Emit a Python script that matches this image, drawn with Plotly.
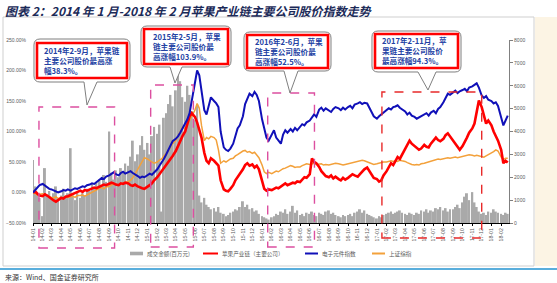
import pandas as pd
import plotly.graph_objects as go

W, H = 557, 283
ML, MR, MT, MB = 33, 48, 40, 60
PW, PH = W - ML - MR, H - MT - MB

# ---------------- data ----------------
months = pd.date_range("2014-01-01", "2018-02-01", freq="MS")
tick_labels = [d.strftime("%y-%m") for d in months]
week_offsets = [0, 7, 14, 21]
dates = [m + pd.Timedelta(days=o) for m in months for o in week_offsets]

# 成交金额(百万元), 4 readings per month
volume = [
    2750, 1600, 1300, 1100, 300, 2400, 1200, 1400, 1100, 1300, 1600, 1000, 1200, 1500, 1100, 1300,
    3270, 1200, 1000, 1400, 1100, 1300, 1200, 1500, 1400, 1700, 1500, 1800, 1900, 1600, 2100, 1800,
    4000, 2200, 1900, 2300, 2000, 2400, 2200, 2600, 2500, 2900, 3600, 2700, 3000, 3400, 3800, 3200,
    3500, 3000, 3800, 4200, 3900, 4300, 500, 4600, 4800, 5200, 5600, 5100, 5800, 6500, 6200, 5500,
    5300, 6000, 5600, 4900, 4500, 5200, 1200, 900, 1100, 800, 700, 600, 650, 500, 700, 450,
    400, 300, 350, 450, 500, 600, 550, 700, 950, 700, 800, 600, 650, 500, 550, 400,
    300, 250, 200, 150, 250, 300, 400, 350, 500, 450, 600, 400, 500, 750, 450, 550,
    350, 400, 300, 450, 400, 500, 350, 300, 450, 400, 350, 500, 550, 400, 450, 350,
    300, 250, 350, 300, 350, 400, 300, 450, 500, 600, 450, 550, 400, 350, 300, 250,
    200, 300, 250, 350, 400, 450, 500, 400, 450, 500, 550, 450, 400, 350, 450, 400,
    350, 450, 400, 550, 500, 600, 450, 550, 500, 650, 600, 700, 550, 650, 500, 600,
    600, 700, 800, 650, 900, 1150, 1300, 1000, 1350, 900, 700, 500, 400, 450, 350, 500,
    450, 600, 500, 450, 400, 350, 450, 400,
]

# 苹果产业链（主要公司）, % change
apple_chain = [
    0, 2, -2, -5, -6, -3, -5, -8, -10, -13, -15, -12, -9, -10, -7, -6,
    -4, -2, 0, 2, 3, 1, 4, 3, 5, 6, 8, 7, 9, 11, 13, 12,
    14, 16, 15, 13, 12, 15, 14, 16, 15, 12, 11, 13, 10, 8, 7, 6,
    9, 12, 15, 20, 25, 30, 34, 38, 44, 48, 55, 60, 68, 76, 85, 92,
    100, 112, 125, 130, 124, 115, 102, 90, 65, 52, 48, 56, 52, 48, 44, 20,
    5, 3, 2, 6, 12, 20, 25, 30, 38, 45, 48, 44, 46, 41, 44, 38,
    18, 6, 3, 5, 4, 6, 8, 7, 10, 13, 15, 12, 14, 16, 15, 18,
    17, 21, 25, 24, 30, 56, 50, 48, 42, 35, 30, 27, 25, 28, 23, 26,
    22, 20, 24, 21, 24, 27, 30, 28, 26, 30, 34, 38, 41, 36, 30, 24,
    22, 18, 20, 28, 35, 42, 48, 45, 52, 58, 55, 62, 70, 78, 85, 80,
    76, 74, 70, 72, 78, 75, 74, 80, 85, 90, 86, 84, 88, 94, 97, 92,
    85, 78, 74, 70, 76, 82, 90, 98, 105, 113, 130, 151, 140, 125, 113, 118,
    110, 100, 92, 85, 70, 48, 52, 49,
]

# 电子元件指数, % change
elec_index = [
    0, 4, 8, 12, 14, 11, 8, 6, 5, 3, 1, 0, 2, 4, 3, 5,
    3, 5, 7, 6, 8, 10, 9, 12, 13, 15, 14, 17, 20, 24, 22, 26,
    28, 31, 33, 30, 28, 32, 34, 31, 33, 35, 32, 30, 27, 24, 26, 25,
    28, 31, 29, 33, 38, 44, 49, 55, 62, 70, 76, 84, 88, 92, 98, 105,
    112, 120, 130, 150, 175, 200, 192, 170, 135, 128, 145, 156, 150, 146, 140, 100,
    74, 70, 68, 72, 80, 92, 105, 110, 125, 145, 155, 162, 158, 165, 160, 150,
    120, 102, 90, 85, 95, 102, 90, 86, 80, 95, 102, 98, 104, 100, 106, 102,
    108, 112, 110, 115, 118, 123, 128, 124, 136, 139, 134, 138, 135, 132, 137, 140,
    138, 135, 139, 136, 140, 142, 138, 144, 146, 148, 145, 147, 146, 140, 132, 125,
    121, 125, 128, 130, 134, 138, 136, 140, 141, 143, 139, 137, 133, 128, 131, 126,
    124, 121, 123, 125, 128, 130, 126, 131, 134, 130, 137, 140, 148, 155, 162, 160,
    164, 167, 163, 166, 168, 170, 166, 172, 174, 176, 179, 172, 159, 155, 158, 152,
    150, 146, 148, 142, 125, 110, 118, 126,
]

# 上证综指, % change
sh_index = [
    0, -2, -4, -3, -2, -3, -5, -6, -8, -9, -7, -10, -8, -9, -6, -8,
    -7, -6, -8, -5, -5, -4, -6, -4, -2, 0, 3, 5, 7, 8, 6, 9,
    10, 12, 14, 13, 12, 14, 15, 17, 18, 20, 24, 30, 38, 45, 52, 57,
    55, 52, 50, 48, 50, 53, 55, 60, 64, 68, 74, 80, 85, 92, 100, 107,
    105, 110, 118, 125, 135, 146, 138, 110, 85, 90, 88, 92, 90, 86, 70, 48,
    52, 50, 53, 55, 56, 60, 62, 65, 68, 69, 66, 67, 64, 66, 62, 57,
    45, 34, 31, 33, 31, 33, 35, 34, 37, 39, 40, 42, 44, 43, 41, 42,
    42, 44, 45, 47, 46, 47, 48, 46, 46, 47, 45, 46, 45, 46, 47, 48,
    47, 46, 45, 46, 47, 48, 49, 50, 51, 52, 53, 52, 50, 48, 47, 46,
    47, 48, 49, 50, 50, 51, 52, 51, 52, 51, 53, 52, 51, 49, 47, 46,
    45, 46, 45, 47, 48, 49, 50, 51, 52, 53, 55, 54, 55, 56, 57, 56,
    57, 58, 57, 58, 59, 60, 61, 62, 61, 60, 61, 60, 59, 58, 60, 62,
    64, 67, 70, 68, 58, 54, 56, 56,
]

for arr in (volume, apple_chain, elec_index, sh_index):
    assert len(arr) == len(dates), len(arr)

series_names = ["成交金额(百万元)", "苹果产业链（主要公司）", "电子元件指数", "上证综指"]
series_colors = ["#a9a9a9", "#ff0000", "#1010b8", "#f3a13b"]

# highlighted periods (start, end)
periods = [
    ("2014-01-20", "2014-09-18"),
    ("2015-01-11", "2015-05-27"),
    ("2016-01-19", "2016-06-16"),
    ("2017-01-17", "2017-12-01"),
]
callout_texts = [
    "2014年2-9月，苹果链<br>主要公司股价最高涨<br>幅38.3%。",
    "2015年2-5月，苹果<br>链主要公司股价最<br>高涨幅103.9%。",
    "2016年2-6月，苹果<br>链主要公司股价最<br>高涨幅52.5%。",
    "2017年2-11月，苹<br>果链主要公司股价<br>最高涨幅94.3%。",
]

# ---------------- helpers (pixel -> paper) ----------------
def px(x):
    return (x - ML) / PW


def py(y):
    return (MT + PH - y) / PH


def pt(x, y):
    return f"{px(x):.5f},{py(y):.5f}"


def callout_path(x0, y0, x1, y1, r, tx0, tx1, tipx, tipy):
    return (
        f"M {pt(x0 + r, y0)} L {pt(x1 - r, y0)} Q {pt(x1, y0)} {pt(x1, y0 + r)} "
        f"L {pt(x1, y1 - r)} Q {pt(x1, y1)} {pt(x1 - r, y1)} "
        f"L {pt(tx1, y1)} L {pt(tipx, tipy)} L {pt(tx0, y1)} "
        f"L {pt(x0 + r, y1)} Q {pt(x0, y1)} {pt(x0, y1 - r)} "
        f"L {pt(x0, y0 + r)} Q {pt(x0, y0)} {pt(x0 + r, y0)} Z"
    )


CJK = "Noto Sans CJK SC"
NUM = "Liberation Sans, Noto Sans CJK SC"

fig = go.Figure()

fig.add_trace(go.Bar(x=dates, y=volume, name=series_names[0], marker=dict(color=series_colors[0], line=dict(width=0)),
                     yaxis="y", showlegend=False))
fig.add_trace(go.Scatter(x=dates, y=sh_index, name=series_names[3], mode="lines",
                         line=dict(color=series_colors[3], width=1.5), yaxis="y2", showlegend=False))
fig.add_trace(go.Scatter(x=dates, y=apple_chain, name=series_names[1], mode="lines",
                         line=dict(color=series_colors[1], width=2.6), yaxis="y2", showlegend=False))
fig.add_trace(go.Scatter(x=dates, y=elec_index, name=series_names[2], mode="lines",
                         line=dict(color=series_colors[2], width=2), yaxis="y2", showlegend=False))

shapes = []
annotations = []

# outer frame, right cream strip, bottom blue rule
shapes.append(dict(type="rect", xref="paper", yref="paper", x0=px(535), x1=px(557), y0=py(266), y1=py(17),
                   fillcolor="#fcf4e4", line=dict(width=0), layer="below"))
shapes.append(dict(type="rect", xref="paper", yref="paper", x0=px(3), x1=px(534), y0=py(266), y1=py(17),
                   line=dict(color="#cfcfcf", width=1), layer="below"))
shapes.append(dict(type="line", xref="paper", yref="paper", x0=px(0), x1=px(557), y0=py(269), y1=py(269),
                   line=dict(color="#5aaedc", width=2)))

# dashed period boxes
box_tops = [107, 85, 93, 92]
box_bottoms = [248, 247, 247, 238]
box_colors = ["#dc4fa0", "#dc4fa0", "#dc4fa0", "#e82a2a"]
for (s, e), t, b, c in zip(periods, box_tops, box_bottoms, box_colors):
    shapes.append(dict(type="rect", xref="x", yref="paper", x0=s, x1=e, y0=py(b), y1=py(t),
                       line=dict(color=c, width=1.4, dash="dash"), layer="above"))

# callouts
callout_geo = [
    dict(box=(34, 39, 130, 82), red=(37, 43, 127, 78), tail=(84, 97, 87, 105), tx=42, ty=60),
    dict(box=(141, 26, 231, 67), red=(144, 29, 228, 64), tail=(170, 182, 175, 83), tx=151, ty=46),
    dict(box=(244, 32, 331, 71), red=(247, 35, 328, 68), tail=(284, 298, 290, 93), tx=253, ty=52),
    dict(box=(372, 31, 461, 72), red=(375, 34, 458, 68), tail=(418, 436, 428, 90), tx=380, ty=51),
]
for g, txt in zip(callout_geo, callout_texts):
    x0, y0, x1, y1 = g["box"]
    shapes.append(dict(type="path", xref="paper", yref="paper",
                       path=callout_path(x0, y0, x1, y1, 6, *g["tail"]),
                       fillcolor="white", line=dict(color="#7f7f7f", width=1)))
    rx0, ry0, rx1, ry1 = g["red"]
    shapes.append(dict(type="rect", xref="paper", yref="paper", x0=px(rx0), x1=px(rx1), y0=py(ry1), y1=py(ry0),
                       line=dict(color="#ff0000", width=2.6)))
    annotations.append(dict(xref="paper", yref="paper", x=px(g["tx"]), y=py(g["ty"]), xanchor="left",
                            yanchor="middle", align="left", showarrow=False, text=f"<b>{txt}</b>",
                            font=dict(family=CJK, size=7.6, color="#2341a3")))

# manual legend
leg_y = 253.5
shapes.append(dict(type="rect", xref="paper", yref="paper", x0=px(130), x1=px(143), y0=py(leg_y + 1.8),
                   y1=py(leg_y - 1.8), fillcolor=series_colors[0], line=dict(width=0)))
for (lx0, lx1), col in zip([(203, 218), (305, 318), (372, 385)], series_colors[1:]):
    shapes.append(dict(type="line", xref="paper", yref="paper", x0=px(lx0), x1=px(lx1), y0=py(leg_y),
                       y1=py(leg_y), line=dict(color=col, width=2)))
for tx, name in zip([145, 220, 320, 387], series_names):
    annotations.append(dict(xref="paper", yref="paper", x=px(tx), y=py(leg_y), xanchor="left", yanchor="middle",
                            showarrow=False, text=name, font=dict(family=CJK, size=5.6, color="#595959")))

# title and source
annotations.append(dict(xref="paper", yref="paper", x=px(3), y=py(10), xanchor="left", yanchor="middle",
                        showarrow=False,
                        text="<b><i>图表 2：2014 年 1 月-2018 年 2 月苹果产业链主要公司股价指数走势</i></b>",
                        font=dict(family=CJK, size=12, color="#1b2a58")))
annotations.append(dict(xref="paper", yref="paper", x=px(3), y=py(276.5), xanchor="left", yanchor="middle",
                        showarrow=False, text="来源：Wind、国金证券研究所",
                        font=dict(family=CJK, size=7, color="#333333")))

fig.update_layout(
    width=W, height=H,
    margin=dict(l=ML, r=MR, t=MT, b=MB, pad=0),
    template="none",
    paper_bgcolor="white", plot_bgcolor="white",
    bargap=0.12,
    showlegend=False,
    xaxis=dict(type="date", range=["2014-01-01", "2018-02-26"],
               tickvals=list(months), ticktext=tick_labels, tickangle=-90,
               tickfont=dict(family=NUM, size=5.2, color="#595959"),
               showline=True, linecolor="#000000", linewidth=1.3,
               ticks="outside", ticklen=2, tickcolor="#000000",
               showgrid=False, zeroline=False, automargin=False),
    yaxis=dict(side="right", range=[0, 8000], dtick=1000, tick0=0,
               tickfont=dict(family=NUM, size=5, color="#595959"),
               showline=True, linecolor="#808080", linewidth=1.2,
               ticks="outside", ticklen=3, tickcolor="#808080",
               showgrid=False, zeroline=False, automargin=False),
    yaxis2=dict(side="left", overlaying="y", range=[-50, 250], dtick=50, tick0=0,
                tickformat=".2f", ticksuffix="%",
                tickfont=dict(family=NUM, size=5, color="#595959"),
                showline=False, ticks="", ticklabelstandoff=6,
                showgrid=False, zeroline=False, automargin=False),
    shapes=shapes,
    annotations=annotations,
)

fig.write_html("out.html")
